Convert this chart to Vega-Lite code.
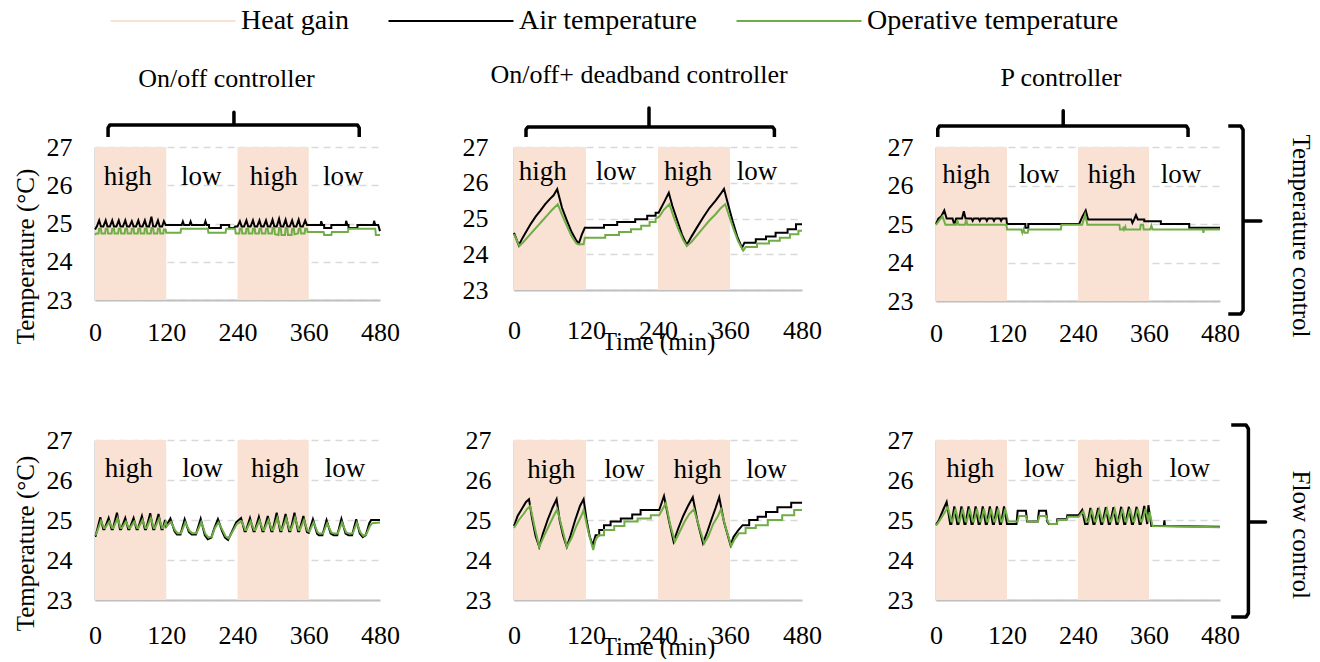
{
"$schema":"https://vega.github.io/schema/vega-lite/v6.json",
"background":"white",
"padding":{"left":12,"top":7,"right":5,"bottom":0},
"config":{
 "font":"Liberation Serif, Times New Roman, DejaVu Serif, serif",
 "view":{"stroke":null},
 "axis":{"labelFont":"Liberation Serif, Times New Roman, DejaVu Serif, serif","labelFontSize":26,"labelColor":"black","ticks":false,"tickSize":0,"domainColor":"#bfbfbf","domainWidth":2,"labelOverlap":false,"labelFlush":false,"titleFont":"Liberation Serif, Times New Roman, DejaVu Serif, serif","titleFontSize":25,"titleFontWeight":"normal","titleColor":"black"},
 "axisX":{"grid":false},
 "axisY":{"grid":true,"gridColor":"#d9d9d9","gridDash":[7,5],"gridWidth":1.5,"labelPadding":23},
 "title":{"font":"Liberation Serif, Times New Roman, DejaVu Serif, serif","fontSize":26,"fontWeight":"normal","color":"black","frame":"group","offset":18},
 "text":{"font":"Liberation Serif, Times New Roman, DejaVu Serif, serif","fontSize":27,"color":"black"},
 "line":{"strokeWidth":2}
},
"datasets":{
 "bands":[{"t":0,"t2":120,"v":23,"v2":27},{"t":240,"t2":360,"v":23,"v2":27}],
 "labels":[
  {"p":"tl","t":55,"v":26.0,"txt":"high"},{"p":"tl","t":179,"v":26.0,"txt":"low"},{"p":"tl","t":301,"v":26.0,"txt":"high"},{"p":"tl","t":418,"v":26.0,"txt":"low"},
  {"p":"tm","t":48,"v":26.08,"txt":"high"},{"p":"tm","t":170,"v":26.08,"txt":"low"},{"p":"tm","t":290,"v":26.08,"txt":"high"},{"p":"tm","t":405,"v":26.08,"txt":"low"},
  {"p":"tr","t":51,"v":26.06,"txt":"high"},{"p":"tr","t":174,"v":26.06,"txt":"low"},{"p":"tr","t":297,"v":26.06,"txt":"high"},{"p":"tr","t":414,"v":26.06,"txt":"low"},
  {"p":"bl","t":57,"v":26.07,"txt":"high"},{"p":"bl","t":181,"v":26.07,"txt":"low"},{"p":"bl","t":303,"v":26.07,"txt":"high"},{"p":"bl","t":421,"v":26.07,"txt":"low"},
  {"p":"bm","t":62,"v":26.05,"txt":"high"},{"p":"bm","t":184,"v":26.05,"txt":"low"},{"p":"bm","t":306,"v":26.05,"txt":"high"},{"p":"bm","t":421,"v":26.05,"txt":"low"},
  {"p":"br","t":58,"v":26.07,"txt":"high"},{"p":"br","t":183,"v":26.07,"txt":"low"},{"p":"br","t":309,"v":26.07,"txt":"high"},{"p":"br","t":429,"v":26.07,"txt":"low"}
 ],
 "braces":[
  {"p":"tl","t":22,"v":27.26},{"p":"tl","t":22,"v":27.5},{"p":"tl","t":25,"v":27.575},{"p":"tl","t":234,"v":27.575},{"p":"tl","t":234,"v":27.91},{"p":"tl","t":234,"v":27.575},{"p":"tl","t":442,"v":27.575},{"p":"tl","t":445,"v":27.5},{"p":"tl","t":445,"v":27.26},
  {"p":"tm","t":20,"v":27.28},{"p":"tm","t":20,"v":27.49},{"p":"tm","t":23,"v":27.56},{"p":"tm","t":225,"v":27.56},{"p":"tm","t":225,"v":28.09},{"p":"tm","t":225,"v":27.56},{"p":"tm","t":431,"v":27.56},{"p":"tm","t":434,"v":27.49},{"p":"tm","t":434,"v":27.28},
  {"p":"tr","t":3,"v":27.26},{"p":"tr","t":3,"v":27.47},{"p":"tr","t":6,"v":27.545},{"p":"tr","t":215,"v":27.545},{"p":"tr","t":215,"v":27.94},{"p":"tr","t":215,"v":27.545},{"p":"tr","t":423,"v":27.545},{"p":"tr","t":426,"v":27.47},{"p":"tr","t":426,"v":27.26},
  {"p":"trr","t":494,"v":27.545},{"p":"trr","t":515,"v":27.545},{"p":"trr","t":519,"v":27.45},{"p":"trr","t":519,"v":25.08},{"p":"trr","t":549,"v":25.08},{"p":"trr","t":519,"v":25.08},{"p":"trr","t":519,"v":22.75},{"p":"trr","t":515,"v":22.66},{"p":"trr","t":494,"v":22.66},
  {"p":"brr","t":499,"v":27.375},{"p":"brr","t":524,"v":27.375},{"p":"brr","t":528,"v":27.28},{"p":"brr","t":528,"v":24.95},{"p":"brr","t":557,"v":24.95},{"p":"brr","t":528,"v":24.95},{"p":"brr","t":528,"v":22.67},{"p":"brr","t":524,"v":22.575},{"p":"brr","t":499,"v":22.575}
 ],
 "side":[{"p":"tr","t":617,"v":24.69,"txt":"Temperature control"},{"p":"br","t":617,"v":24.63,"txt":"Flow control"}],
 "tlA":[{"t":0,"v":24.84},{"t":3,"v":24.92},{"t":7,"v":25.08},{"t":10,"v":24.92},{"t":14,"v":24.92},{"t":18,"v":25.08},{"t":21,"v":24.92},{"t":25,"v":24.92},{"t":29,"v":25.08},{"t":32,"v":24.92},{"t":36,"v":24.92},{"t":40,"v":25.08},{"t":43,"v":24.92},{"t":47,"v":24.92},{"t":51,"v":25.08},{"t":54,"v":24.92},{"t":58,"v":24.92},{"t":62,"v":25.06},{"t":65,"v":24.92},{"t":69,"v":24.92},{"t":73,"v":25.08},{"t":76,"v":24.92},{"t":80,"v":24.92},{"t":84,"v":25.08},{"t":87,"v":24.92},{"t":91,"v":24.92},{"t":95,"v":25.18},{"t":98,"v":24.92},{"t":102,"v":24.92},{"t":106,"v":25.08},{"t":109,"v":24.92},{"t":113,"v":24.92},{"t":116,"v":25.06},{"t":119,"v":24.96},{"t":146,"v":24.96},{"t":148,"v":25.05},{"t":150,"v":24.96},{"t":159,"v":24.96},{"t":161,"v":25.05},{"t":163,"v":24.96},{"t":184,"v":24.96},{"t":186,"v":25.06},{"t":188,"v":24.96},{"t":192,"v":24.96},{"t":192,"v":24.88},{"t":212,"v":24.88},{"t":212,"v":24.96},{"t":226,"v":24.96},{"t":226,"v":24.88},{"t":234,"v":24.88},{"t":236,"v":24.92},{"t":240,"v":24.92},{"t":244,"v":25.06},{"t":247,"v":24.92},{"t":251,"v":24.92},{"t":255,"v":25.08},{"t":258,"v":24.92},{"t":262,"v":24.92},{"t":266,"v":25.08},{"t":269,"v":24.92},{"t":273,"v":24.92},{"t":277,"v":25.08},{"t":280,"v":24.92},{"t":284,"v":24.92},{"t":288,"v":25.08},{"t":291,"v":24.92},{"t":295,"v":24.92},{"t":299,"v":25.1},{"t":302,"v":24.92},{"t":306,"v":24.92},{"t":310,"v":25.12},{"t":313,"v":24.92},{"t":317,"v":24.92},{"t":321,"v":25.1},{"t":324,"v":24.92},{"t":328,"v":24.92},{"t":332,"v":25.08},{"t":335,"v":24.92},{"t":339,"v":24.92},{"t":343,"v":25.1},{"t":346,"v":24.92},{"t":350,"v":24.92},{"t":354,"v":25.08},{"t":357,"v":24.96},{"t":380,"v":24.96},{"t":381,"v":25.06},{"t":383,"v":24.96},{"t":386,"v":24.96},{"t":386,"v":24.88},{"t":398,"v":24.88},{"t":398,"v":24.96},{"t":422,"v":24.96},{"t":423,"v":25.07},{"t":425,"v":24.96},{"t":427,"v":24.96},{"t":427,"v":24.88},{"t":442,"v":24.88},{"t":442,"v":24.96},{"t":469,"v":24.96},{"t":470,"v":25.07},{"t":472,"v":24.96},{"t":477,"v":24.96},{"t":480,"v":24.8}],
 "tlO":[{"t":0,"v":24.7},{"t":2,"v":24.74},{"t":6,"v":24.74},{"t":7,"v":24.86},{"t":10,"v":24.86},{"t":11,"v":24.74},{"t":17,"v":24.74},{"t":18,"v":24.86},{"t":21,"v":24.86},{"t":22,"v":24.74},{"t":28,"v":24.74},{"t":29,"v":24.86},{"t":32,"v":24.86},{"t":33,"v":24.74},{"t":39,"v":24.74},{"t":40,"v":24.86},{"t":43,"v":24.86},{"t":44,"v":24.74},{"t":50,"v":24.74},{"t":51,"v":24.86},{"t":54,"v":24.86},{"t":55,"v":24.74},{"t":61,"v":24.74},{"t":62,"v":24.86},{"t":65,"v":24.86},{"t":66,"v":24.74},{"t":72,"v":24.74},{"t":73,"v":24.86},{"t":76,"v":24.86},{"t":77,"v":24.74},{"t":83,"v":24.74},{"t":84,"v":24.86},{"t":87,"v":24.86},{"t":88,"v":24.74},{"t":94,"v":24.74},{"t":95,"v":24.88},{"t":98,"v":24.88},{"t":99,"v":24.74},{"t":105,"v":24.74},{"t":106,"v":24.86},{"t":109,"v":24.86},{"t":110,"v":24.74},{"t":115,"v":24.74},{"t":116,"v":24.84},{"t":119,"v":24.84},{"t":120,"v":24.76},{"t":144,"v":24.76},{"t":145,"v":24.86},{"t":190,"v":24.86},{"t":191,"v":24.76},{"t":220,"v":24.76},{"t":221,"v":24.86},{"t":236,"v":24.86},{"t":237,"v":24.74},{"t":243,"v":24.74},{"t":244,"v":24.86},{"t":247,"v":24.86},{"t":248,"v":24.74},{"t":254,"v":24.74},{"t":255,"v":24.86},{"t":258,"v":24.86},{"t":259,"v":24.74},{"t":265,"v":24.74},{"t":266,"v":24.86},{"t":269,"v":24.86},{"t":270,"v":24.74},{"t":276,"v":24.74},{"t":277,"v":24.86},{"t":280,"v":24.86},{"t":281,"v":24.74},{"t":287,"v":24.74},{"t":288,"v":24.86},{"t":291,"v":24.86},{"t":292,"v":24.74},{"t":298,"v":24.74},{"t":299,"v":24.88},{"t":302,"v":24.88},{"t":303,"v":24.72},{"t":309,"v":24.7},{"t":310,"v":24.88},{"t":313,"v":24.88},{"t":314,"v":24.7},{"t":320,"v":24.7},{"t":321,"v":24.88},{"t":324,"v":24.88},{"t":325,"v":24.7},{"t":331,"v":24.7},{"t":332,"v":24.86},{"t":335,"v":24.86},{"t":336,"v":24.72},{"t":342,"v":24.74},{"t":343,"v":24.86},{"t":346,"v":24.86},{"t":347,"v":24.74},{"t":353,"v":24.74},{"t":354,"v":24.86},{"t":357,"v":24.86},{"t":358,"v":24.78},{"t":385,"v":24.78},{"t":386,"v":24.7},{"t":398,"v":24.7},{"t":399,"v":24.78},{"t":426,"v":24.78},{"t":427,"v":24.86},{"t":472,"v":24.86},{"t":473,"v":24.7},{"t":480,"v":24.7}],
 "tmA":[{"t":0,"v":24.6},{"t":8,"v":24.25},{"t":14,"v":24.45},{"t":20,"v":24.62},{"t":28,"v":24.85},{"t":36,"v":25.05},{"t":44,"v":25.22},{"t":52,"v":25.4},{"t":60,"v":25.55},{"t":66,"v":25.65},{"t":72,"v":25.82},{"t":80,"v":25.3},{"t":88,"v":24.95},{"t":96,"v":24.62},{"t":104,"v":24.38},{"t":108,"v":24.3},{"t":113,"v":24.55},{"t":118,"v":24.74},{"t":150,"v":24.74},{"t":150,"v":24.82},{"t":172,"v":24.82},{"t":172,"v":24.9},{"t":202,"v":24.9},{"t":202,"v":24.98},{"t":222,"v":24.98},{"t":222,"v":25.08},{"t":236,"v":25.08},{"t":236,"v":25.16},{"t":241,"v":25.16},{"t":250,"v":25.45},{"t":258,"v":25.72},{"t":264,"v":25.35},{"t":272,"v":24.95},{"t":280,"v":24.55},{"t":288,"v":24.26},{"t":296,"v":24.5},{"t":306,"v":24.78},{"t":316,"v":25.05},{"t":326,"v":25.3},{"t":336,"v":25.5},{"t":344,"v":25.68},{"t":350,"v":25.83},{"t":356,"v":25.45},{"t":364,"v":24.95},{"t":372,"v":24.5},{"t":380,"v":24.18},{"t":384,"v":24.32},{"t":403,"v":24.32},{"t":403,"v":24.42},{"t":420,"v":24.42},{"t":420,"v":24.5},{"t":436,"v":24.5},{"t":436,"v":24.6},{"t":456,"v":24.6},{"t":456,"v":24.7},{"t":470,"v":24.7},{"t":470,"v":24.84},{"t":480,"v":24.84}],
 "tmO":[{"t":0,"v":24.56},{"t":9,"v":24.23},{"t":16,"v":24.35},{"t":24,"v":24.5},{"t":32,"v":24.65},{"t":40,"v":24.8},{"t":48,"v":24.95},{"t":56,"v":25.1},{"t":64,"v":25.25},{"t":73,"v":25.4},{"t":80,"v":25.1},{"t":88,"v":24.8},{"t":96,"v":24.5},{"t":104,"v":24.3},{"t":107,"v":24.28},{"t":116,"v":24.28},{"t":118,"v":24.46},{"t":152,"v":24.46},{"t":152,"v":24.54},{"t":175,"v":24.54},{"t":175,"v":24.62},{"t":195,"v":24.62},{"t":195,"v":24.7},{"t":212,"v":24.7},{"t":212,"v":24.8},{"t":226,"v":24.8},{"t":226,"v":24.9},{"t":236,"v":24.9},{"t":236,"v":25.0},{"t":242,"v":25.05},{"t":250,"v":25.25},{"t":259,"v":25.4},{"t":266,"v":25.05},{"t":274,"v":24.7},{"t":282,"v":24.4},{"t":288,"v":24.23},{"t":296,"v":24.35},{"t":306,"v":24.55},{"t":316,"v":24.75},{"t":326,"v":24.95},{"t":336,"v":25.12},{"t":344,"v":25.28},{"t":352,"v":25.4},{"t":358,"v":25.1},{"t":366,"v":24.7},{"t":374,"v":24.35},{"t":382,"v":24.1},{"t":386,"v":24.2},{"t":405,"v":24.2},{"t":405,"v":24.3},{"t":425,"v":24.3},{"t":425,"v":24.38},{"t":443,"v":24.38},{"t":443,"v":24.46},{"t":460,"v":24.46},{"t":460,"v":24.56},{"t":474,"v":24.56},{"t":474,"v":24.66},{"t":480,"v":24.66}],
 "trA":[{"t":0,"v":25.0},{"t":4,"v":25.14},{"t":9,"v":25.2},{"t":14,"v":25.35},{"t":18,"v":25.14},{"t":28,"v":25.14},{"t":30,"v":25.03},{"t":32,"v":25.03},{"t":34,"v":25.14},{"t":44,"v":25.14},{"t":47,"v":25.33},{"t":50,"v":25.14},{"t":60,"v":25.14},{"t":62,"v":25.08},{"t":64,"v":25.14},{"t":72,"v":25.14},{"t":74,"v":25.08},{"t":76,"v":25.14},{"t":84,"v":25.14},{"t":86,"v":25.08},{"t":88,"v":25.14},{"t":96,"v":25.14},{"t":98,"v":25.08},{"t":100,"v":25.14},{"t":108,"v":25.14},{"t":110,"v":25.08},{"t":112,"v":25.14},{"t":119,"v":25.14},{"t":120,"v":25.0},{"t":151,"v":25.0},{"t":151,"v":24.9},{"t":156,"v":24.9},{"t":156,"v":25.0},{"t":242,"v":25.0},{"t":247,"v":25.18},{"t":253,"v":25.35},{"t":257,"v":25.12},{"t":330,"v":25.12},{"t":332,"v":25.03},{"t":335,"v":25.12},{"t":338,"v":25.23},{"t":341,"v":25.12},{"t":352,"v":25.12},{"t":352,"v":25.07},{"t":380,"v":25.07},{"t":380,"v":25.0},{"t":428,"v":25.0},{"t":428,"v":24.9},{"t":480,"v":24.9}],
 "trO":[{"t":0,"v":24.98},{"t":6,"v":25.1},{"t":11,"v":25.2},{"t":16,"v":24.98},{"t":34,"v":24.98},{"t":36,"v":25.1},{"t":38,"v":24.98},{"t":49,"v":24.98},{"t":51,"v":25.12},{"t":53,"v":24.98},{"t":119,"v":24.98},{"t":120,"v":24.86},{"t":144,"v":24.86},{"t":146,"v":24.77},{"t":148,"v":24.86},{"t":150,"v":24.77},{"t":155,"v":24.77},{"t":156,"v":24.86},{"t":211,"v":24.86},{"t":212,"v":24.98},{"t":247,"v":24.98},{"t":252,"v":25.24},{"t":256,"v":24.98},{"t":310,"v":24.98},{"t":311,"v":24.86},{"t":316,"v":24.86},{"t":317,"v":24.93},{"t":318,"v":24.86},{"t":320,"v":24.93},{"t":321,"v":24.86},{"t":345,"v":24.86},{"t":346,"v":24.98},{"t":350,"v":24.98},{"t":351,"v":24.86},{"t":362,"v":24.86},{"t":364,"v":24.96},{"t":366,"v":24.86},{"t":451,"v":24.86},{"t":452,"v":24.77},{"t":453,"v":24.86},{"t":480,"v":24.86}],
 "blA":[{"t":0,"v":24.6},{"t":1,"v":24.6},{"t":9,"v":25.07},{"t":14,"v":24.77},{"t":16,"v":24.77},{"t":23,"v":25.05},{"t":28,"v":24.77},{"t":30,"v":24.77},{"t":37,"v":25.18},{"t":42,"v":24.77},{"t":44,"v":24.77},{"t":51,"v":25.05},{"t":56,"v":24.77},{"t":58,"v":24.77},{"t":65,"v":25.05},{"t":70,"v":24.77},{"t":72,"v":24.77},{"t":79,"v":25.1},{"t":84,"v":24.77},{"t":86,"v":24.77},{"t":93,"v":25.17},{"t":98,"v":24.77},{"t":100,"v":24.77},{"t":107,"v":25.15},{"t":112,"v":24.77},{"t":114,"v":24.77},{"t":118,"v":25.0},{"t":120,"v":24.85},{"t":127,"v":25.04},{"t":134,"v":24.72},{"t":138,"v":24.64},{"t":144,"v":24.64},{"t":151,"v":25.02},{"t":158,"v":24.7},{"t":163,"v":24.64},{"t":170,"v":24.64},{"t":178,"v":25.03},{"t":185,"v":24.62},{"t":190,"v":24.52},{"t":196,"v":24.56},{"t":201,"v":24.8},{"t":207,"v":25.02},{"t":214,"v":24.72},{"t":219,"v":24.56},{"t":224,"v":24.5},{"t":231,"v":24.72},{"t":238,"v":24.95},{"t":246,"v":25.05},{"t":252,"v":24.72},{"t":254,"v":24.72},{"t":261,"v":25.05},{"t":267,"v":24.72},{"t":269,"v":24.72},{"t":276,"v":25.08},{"t":282,"v":24.72},{"t":284,"v":24.72},{"t":291,"v":25.1},{"t":297,"v":24.72},{"t":299,"v":24.72},{"t":306,"v":25.18},{"t":312,"v":24.72},{"t":314,"v":24.72},{"t":321,"v":25.15},{"t":327,"v":24.72},{"t":329,"v":24.72},{"t":336,"v":25.18},{"t":342,"v":24.72},{"t":344,"v":24.72},{"t":351,"v":25.1},{"t":357,"v":24.7},{"t":360,"v":24.68},{"t":367,"v":25.02},{"t":374,"v":24.66},{"t":377,"v":24.62},{"t":383,"v":24.62},{"t":390,"v":25.0},{"t":397,"v":24.66},{"t":402,"v":24.62},{"t":408,"v":24.62},{"t":415,"v":25.03},{"t":422,"v":24.66},{"t":427,"v":24.62},{"t":433,"v":24.62},{"t":440,"v":25.02},{"t":446,"v":24.66},{"t":451,"v":24.57},{"t":456,"v":24.62},{"t":462,"v":24.92},{"t":465,"v":25.0},{"t":480,"v":25.0}],
 "blO":[{"t":0,"v":24.62},{"t":2,"v":24.65},{"t":10,"v":24.98},{"t":15,"v":24.8},{"t":17,"v":24.8},{"t":24,"v":24.96},{"t":29,"v":24.8},{"t":31,"v":24.8},{"t":38,"v":25.05},{"t":43,"v":24.8},{"t":45,"v":24.8},{"t":52,"v":24.96},{"t":57,"v":24.8},{"t":59,"v":24.8},{"t":66,"v":24.96},{"t":71,"v":24.8},{"t":73,"v":24.8},{"t":80,"v":25.0},{"t":85,"v":24.8},{"t":87,"v":24.8},{"t":94,"v":25.05},{"t":99,"v":24.8},{"t":101,"v":24.8},{"t":108,"v":25.04},{"t":113,"v":24.8},{"t":115,"v":24.8},{"t":119,"v":24.95},{"t":121,"v":24.85},{"t":128,"v":24.95},{"t":135,"v":24.74},{"t":139,"v":24.67},{"t":145,"v":24.67},{"t":152,"v":24.94},{"t":159,"v":24.73},{"t":164,"v":24.67},{"t":171,"v":24.67},{"t":179,"v":24.95},{"t":186,"v":24.65},{"t":191,"v":24.56},{"t":197,"v":24.59},{"t":202,"v":24.8},{"t":208,"v":24.94},{"t":215,"v":24.74},{"t":220,"v":24.59},{"t":225,"v":24.54},{"t":232,"v":24.72},{"t":239,"v":24.9},{"t":247,"v":24.97},{"t":253,"v":24.75},{"t":255,"v":24.75},{"t":262,"v":24.97},{"t":268,"v":24.75},{"t":270,"v":24.75},{"t":277,"v":24.99},{"t":283,"v":24.75},{"t":285,"v":24.75},{"t":292,"v":25.0},{"t":298,"v":24.75},{"t":300,"v":24.75},{"t":307,"v":25.06},{"t":313,"v":24.75},{"t":315,"v":24.75},{"t":322,"v":25.04},{"t":328,"v":24.75},{"t":330,"v":24.75},{"t":337,"v":25.06},{"t":343,"v":24.75},{"t":345,"v":24.75},{"t":352,"v":25.0},{"t":358,"v":24.73},{"t":361,"v":24.71},{"t":368,"v":24.94},{"t":375,"v":24.69},{"t":378,"v":24.66},{"t":384,"v":24.66},{"t":391,"v":24.92},{"t":398,"v":24.69},{"t":403,"v":24.66},{"t":409,"v":24.66},{"t":416,"v":24.94},{"t":423,"v":24.69},{"t":428,"v":24.66},{"t":434,"v":24.66},{"t":441,"v":24.93},{"t":447,"v":24.69},{"t":452,"v":24.6},{"t":457,"v":24.64},{"t":463,"v":24.85},{"t":467,"v":24.92},{"t":480,"v":24.94}],
 "bmA":[{"t":0,"v":24.85},{"t":6,"v":25.1},{"t":14,"v":25.3},{"t":20,"v":25.45},{"t":25,"v":25.52},{"t":30,"v":25.05},{"t":36,"v":24.6},{"t":42,"v":24.33},{"t":48,"v":24.65},{"t":56,"v":25.0},{"t":64,"v":25.3},{"t":71,"v":25.52},{"t":76,"v":25.0},{"t":82,"v":24.6},{"t":88,"v":24.33},{"t":94,"v":24.6},{"t":102,"v":25.0},{"t":110,"v":25.35},{"t":116,"v":25.52},{"t":121,"v":25.0},{"t":126,"v":24.6},{"t":131,"v":24.37},{"t":136,"v":24.62},{"t":142,"v":24.62},{"t":142,"v":24.75},{"t":150,"v":24.75},{"t":150,"v":24.87},{"t":161,"v":24.87},{"t":161,"v":24.96},{"t":178,"v":24.96},{"t":178,"v":25.04},{"t":197,"v":25.04},{"t":197,"v":25.14},{"t":211,"v":25.14},{"t":211,"v":25.25},{"t":242,"v":25.25},{"t":250,"v":25.6},{"t":258,"v":25.0},{"t":266,"v":24.46},{"t":274,"v":24.8},{"t":282,"v":25.1},{"t":290,"v":25.35},{"t":298,"v":25.57},{"t":306,"v":24.95},{"t":315,"v":24.42},{"t":322,"v":24.7},{"t":330,"v":25.05},{"t":336,"v":25.3},{"t":342,"v":25.57},{"t":350,"v":24.95},{"t":361,"v":24.37},{"t":366,"v":24.58},{"t":374,"v":24.75},{"t":381,"v":24.87},{"t":392,"v":24.87},{"t":392,"v":25.0},{"t":406,"v":25.0},{"t":406,"v":25.08},{"t":420,"v":25.08},{"t":420,"v":25.2},{"t":439,"v":25.2},{"t":439,"v":25.32},{"t":462,"v":25.32},{"t":462,"v":25.43},{"t":480,"v":25.43}],
 "bmO":[{"t":0,"v":24.8},{"t":8,"v":25.0},{"t":16,"v":25.15},{"t":22,"v":25.28},{"t":27,"v":25.35},{"t":34,"v":24.85},{"t":42,"v":24.33},{"t":50,"v":24.6},{"t":58,"v":24.85},{"t":66,"v":25.1},{"t":72,"v":25.27},{"t":80,"v":24.8},{"t":88,"v":24.33},{"t":96,"v":24.55},{"t":104,"v":24.85},{"t":112,"v":25.1},{"t":116,"v":25.25},{"t":124,"v":24.7},{"t":132,"v":24.25},{"t":136,"v":24.5},{"t":141,"v":24.62},{"t":150,"v":24.62},{"t":150,"v":24.75},{"t":167,"v":24.75},{"t":167,"v":24.85},{"t":184,"v":24.85},{"t":184,"v":24.96},{"t":206,"v":24.96},{"t":206,"v":25.04},{"t":228,"v":25.04},{"t":228,"v":25.12},{"t":242,"v":25.12},{"t":253,"v":25.42},{"t":260,"v":24.9},{"t":268,"v":24.46},{"t":276,"v":24.7},{"t":284,"v":24.95},{"t":292,"v":25.15},{"t":300,"v":25.27},{"t":308,"v":24.85},{"t":317,"v":24.42},{"t":324,"v":24.6},{"t":332,"v":24.9},{"t":340,"v":25.1},{"t":345,"v":25.27},{"t":352,"v":24.85},{"t":362,"v":24.35},{"t":367,"v":24.5},{"t":375,"v":24.67},{"t":386,"v":24.67},{"t":386,"v":24.8},{"t":403,"v":24.8},{"t":403,"v":24.87},{"t":423,"v":24.87},{"t":423,"v":25.0},{"t":447,"v":25.0},{"t":447,"v":25.12},{"t":467,"v":25.12},{"t":467,"v":25.25},{"t":480,"v":25.25}],
 "brA":[{"t":0,"v":24.88},{"t":5,"v":25.0},{"t":12,"v":25.25},{"t":18,"v":25.45},{"t":24,"v":24.9},{"t":26,"v":24.9},{"t":31,"v":25.34},{"t":36,"v":24.9},{"t":38,"v":24.9},{"t":43,"v":25.34},{"t":48,"v":24.9},{"t":50,"v":24.9},{"t":55,"v":25.34},{"t":60,"v":24.9},{"t":62,"v":24.9},{"t":67,"v":25.34},{"t":72,"v":24.9},{"t":74,"v":24.9},{"t":79,"v":25.34},{"t":84,"v":24.9},{"t":86,"v":24.9},{"t":91,"v":25.34},{"t":96,"v":24.9},{"t":98,"v":24.9},{"t":103,"v":25.34},{"t":108,"v":24.9},{"t":110,"v":24.9},{"t":115,"v":25.34},{"t":120,"v":24.9},{"t":136,"v":24.9},{"t":138,"v":25.23},{"t":152,"v":25.23},{"t":154,"v":24.96},{"t":172,"v":24.96},{"t":174,"v":25.23},{"t":186,"v":25.23},{"t":188,"v":24.96},{"t":191,"v":24.9},{"t":204,"v":24.9},{"t":205,"v":25.02},{"t":221,"v":25.02},{"t":222,"v":25.12},{"t":241,"v":25.12},{"t":247,"v":25.25},{"t":252,"v":24.9},{"t":256,"v":24.9},{"t":261,"v":25.3},{"t":266,"v":24.9},{"t":268,"v":24.9},{"t":274,"v":25.3},{"t":279,"v":24.9},{"t":281,"v":24.9},{"t":287,"v":25.32},{"t":292,"v":24.9},{"t":294,"v":24.9},{"t":300,"v":25.32},{"t":305,"v":24.9},{"t":307,"v":24.9},{"t":313,"v":25.33},{"t":318,"v":24.9},{"t":320,"v":24.9},{"t":326,"v":25.33},{"t":331,"v":24.9},{"t":333,"v":24.9},{"t":339,"v":25.33},{"t":344,"v":24.9},{"t":346,"v":24.9},{"t":352,"v":25.35},{"t":357,"v":24.9},{"t":359,"v":25.37},{"t":364,"v":24.85},{"t":385,"v":24.85},{"t":386,"v":24.99},{"t":387,"v":24.85},{"t":480,"v":24.83}],
 "brO":[{"t":0,"v":24.86},{"t":6,"v":24.98},{"t":13,"v":25.15},{"t":20,"v":25.32},{"t":26,"v":24.96},{"t":28,"v":24.96},{"t":33,"v":25.28},{"t":38,"v":24.96},{"t":40,"v":24.96},{"t":45,"v":25.28},{"t":50,"v":24.96},{"t":52,"v":24.96},{"t":57,"v":25.28},{"t":62,"v":24.96},{"t":64,"v":24.96},{"t":69,"v":25.28},{"t":74,"v":24.96},{"t":76,"v":24.96},{"t":81,"v":25.28},{"t":86,"v":24.96},{"t":88,"v":24.96},{"t":93,"v":25.28},{"t":98,"v":24.96},{"t":100,"v":24.96},{"t":105,"v":25.28},{"t":110,"v":24.96},{"t":112,"v":24.96},{"t":117,"v":25.28},{"t":122,"v":24.96},{"t":138,"v":24.96},{"t":140,"v":25.1},{"t":152,"v":25.1},{"t":155,"v":24.96},{"t":172,"v":24.96},{"t":175,"v":25.1},{"t":186,"v":25.1},{"t":189,"v":24.96},{"t":192,"v":24.9},{"t":204,"v":24.9},{"t":206,"v":25.0},{"t":221,"v":25.0},{"t":223,"v":25.08},{"t":241,"v":25.08},{"t":249,"v":25.22},{"t":254,"v":24.96},{"t":258,"v":24.96},{"t":263,"v":25.26},{"t":268,"v":24.96},{"t":270,"v":24.96},{"t":276,"v":25.26},{"t":281,"v":24.96},{"t":283,"v":24.96},{"t":289,"v":25.27},{"t":294,"v":24.96},{"t":296,"v":24.96},{"t":302,"v":25.27},{"t":307,"v":24.96},{"t":309,"v":24.96},{"t":315,"v":25.28},{"t":320,"v":24.96},{"t":322,"v":24.96},{"t":328,"v":25.28},{"t":333,"v":24.96},{"t":335,"v":24.96},{"t":341,"v":25.28},{"t":346,"v":24.96},{"t":348,"v":24.96},{"t":354,"v":25.28},{"t":359,"v":24.96},{"t":361,"v":25.2},{"t":366,"v":24.85},{"t":480,"v":24.82}]
},
"columns":3,
"bounds":"flush",
"spacing":{"row":139,"column":134},
"concat":[
 {"width":285,"height":153,"title":{"text":"On/off controller","dx":-11},
  "encoding":{"x":{"field":"t","type":"quantitative","scale":{"domain":[0,480],"nice":false,"zero":false},"axis":{"values":[0,120,240,360,480],"labelPadding":19,"title":null}},
   "y":{"field":"v","type":"quantitative","scale":{"domain":[23,27],"nice":false,"zero":false},"axis":{"values":[23,24,25,26,27],"title":"Temperature (°C)","titleX":-62,"titleY":109,"titleBaseline":"alphabetic","titleAlign":"center","titleAngle":-90}}},
  "layer":[
   {"data":{"name":"bands"},"mark":{"type":"rect","color":"#f9e2d4"},"encoding":{"x2":{"field":"t2"},"y2":{"field":"v2"}}},
   {"data":{"name":"tlA"},"mark":"line","encoding":{"color":{"datum":"Air temperature","type":"nominal","scale":{"domain":["Heat gain","Air temperature","Operative temperature"],"range":["#f9e2d4","#000000","#70ad47"]},"legend":{"orient":"none","legendX":64,"legendY":-140,"direction":"horizontal","title":null,"symbolType":"M-5,0H5","symbolSize":625,"symbolStrokeWidth":3,"symbolOffset":0,"labelOffset":54,"columnPadding":34,"labelFontSize":28,"labelFont":"Liberation Serif, Times New Roman, DejaVu Serif, serif","labelColor":"black","labelLimit":400,"padding":0,"encode":{"symbols":{"update":{"strokeWidth":{"signal":"datum.value === 'Heat gain' ? 9 : 3"},"fillOpacity":{"value":0}}}}}},"order":{"value":null}}},
   {"data":{"name":"tlO"},"mark":"line","encoding":{"color":{"datum":"Operative temperature","type":"nominal"},"order":{"value":null}}},
   {"data":{"name":"labels"},"transform":[{"filter":"datum.p=='tl'"}],"mark":{"type":"text","baseline":"alphabetic"},"encoding":{"text":{"field":"txt"}}},
   {"data":{"name":"braces"},"transform":[{"filter":"datum.p=='tl'"}],"mark":{"type":"line","color":"black","strokeWidth":3.5,"strokeJoin":"round","clip":false},"encoding":{"order":{"value":null}}}
  ]},
 {"width":288,"height":143,"title":{"text":"On/off+ deadband controller","dx":-19},
  "encoding":{"x":{"field":"t","type":"quantitative","scale":{"domain":[0,480],"nice":false,"zero":false},"axis":{"values":[0,120,240,360,480],"labelPadding":27,"title":"Time (min)","titleY":39,"titleBaseline":"top"}},
   "y":{"field":"v","type":"quantitative","scale":{"domain":[23,27],"nice":false,"zero":false},"axis":{"values":[23,24,25,26,27],"title":null,"labelPadding":26}}},
  "layer":[
   {"data":{"name":"bands"},"mark":{"type":"rect","color":"#f9e2d4"},"encoding":{"x2":{"field":"t2"},"y2":{"field":"v2"}}},
   {"data":{"name":"tmA"},"mark":"line","encoding":{"color":{"datum":"Air temperature","type":"nominal"},"order":{"value":null}}},
   {"data":{"name":"tmO"},"mark":"line","encoding":{"color":{"datum":"Operative temperature","type":"nominal"},"order":{"value":null}}},
   {"data":{"name":"labels"},"transform":[{"filter":"datum.p=='tm'"}],"mark":{"type":"text","baseline":"alphabetic"},"encoding":{"text":{"field":"txt"}}},
   {"data":{"name":"braces"},"transform":[{"filter":"datum.p=='tm'"}],"mark":{"type":"line","color":"black","strokeWidth":3.5,"strokeJoin":"round","clip":false},"encoding":{"order":{"value":null}}}
  ]},
 {"width":284,"height":154,"title":{"text":"P controller","dx":-17},
  "encoding":{"x":{"field":"t","type":"quantitative","scale":{"domain":[0,480],"nice":false,"zero":false},"axis":{"values":[0,120,240,360,480],"labelPadding":19,"title":null}},
   "y":{"field":"v","type":"quantitative","scale":{"domain":[23,27],"nice":false,"zero":false},"axis":{"values":[23,24,25,26,27],"title":null}}},
  "layer":[
   {"data":{"name":"bands"},"mark":{"type":"rect","color":"#f9e2d4"},"encoding":{"x2":{"field":"t2"},"y2":{"field":"v2"}}},
   {"data":{"name":"trA"},"mark":"line","encoding":{"color":{"datum":"Air temperature","type":"nominal"},"order":{"value":null}}},
   {"data":{"name":"trO"},"mark":"line","encoding":{"color":{"datum":"Operative temperature","type":"nominal"},"order":{"value":null}}},
   {"data":{"name":"labels"},"transform":[{"filter":"datum.p=='tr'"}],"mark":{"type":"text","baseline":"alphabetic"},"encoding":{"text":{"field":"txt"}}},
   {"data":{"name":"braces"},"transform":[{"filter":"datum.p=='tr' || datum.p=='trr'"}],"mark":{"type":"line","color":"black","strokeWidth":3.5,"strokeJoin":"round","clip":false},"encoding":{"detail":{"field":"p"},"order":{"value":null}}},
   {"data":{"name":"side"},"transform":[{"filter":"datum.p=='tr'"}],"mark":{"type":"text","angle":90,"baseline":"middle","fontSize":25,"clip":false},"encoding":{"text":{"field":"txt"}}}
  ]},
 {"width":285,"height":160,
  "encoding":{"x":{"field":"t","type":"quantitative","scale":{"domain":[0,480],"nice":false,"zero":false},"axis":{"values":[0,120,240,360,480],"labelPadding":22,"title":null}},
   "y":{"field":"v","type":"quantitative","scale":{"domain":[23,27],"nice":false,"zero":false},"axis":{"values":[23,24,25,26,27],"title":"Temperature (°C)","titleX":-62,"titleY":103,"titleBaseline":"alphabetic","titleAlign":"center","titleAngle":-90}}},
  "layer":[
   {"data":{"name":"bands"},"mark":{"type":"rect","color":"#f9e2d4"},"encoding":{"x2":{"field":"t2"},"y2":{"field":"v2"}}},
   {"data":{"name":"blA"},"mark":"line","encoding":{"color":{"datum":"Air temperature","type":"nominal"},"order":{"value":null}}},
   {"data":{"name":"blO"},"mark":"line","encoding":{"color":{"datum":"Operative temperature","type":"nominal"},"order":{"value":null}}},
   {"data":{"name":"labels"},"transform":[{"filter":"datum.p=='bl'"}],"mark":{"type":"text","baseline":"alphabetic"},"encoding":{"text":{"field":"txt"}}}
  ]},
 {"width":288,"height":160,
  "encoding":{"x":{"field":"t","type":"quantitative","scale":{"domain":[0,480],"nice":false,"zero":false},"axis":{"values":[0,120,240,360,480],"labelPadding":22,"title":"Time (min)","titleY":34,"titleBaseline":"top"}},
   "y":{"field":"v","type":"quantitative","scale":{"domain":[23,27],"nice":false,"zero":false},"axis":{"values":[23,24,25,26,27],"title":null}}},
  "layer":[
   {"data":{"name":"bands"},"mark":{"type":"rect","color":"#f9e2d4"},"encoding":{"x2":{"field":"t2"},"y2":{"field":"v2"}}},
   {"data":{"name":"bmA"},"mark":"line","encoding":{"color":{"datum":"Air temperature","type":"nominal"},"order":{"value":null}}},
   {"data":{"name":"bmO"},"mark":"line","encoding":{"color":{"datum":"Operative temperature","type":"nominal"},"order":{"value":null}}},
   {"data":{"name":"labels"},"transform":[{"filter":"datum.p=='bm'"}],"mark":{"type":"text","baseline":"alphabetic"},"encoding":{"text":{"field":"txt"}}}
  ]},
 {"width":284,"height":160,
  "encoding":{"x":{"field":"t","type":"quantitative","scale":{"domain":[0,480],"nice":false,"zero":false},"axis":{"values":[0,120,240,360,480],"labelPadding":22,"title":null}},
   "y":{"field":"v","type":"quantitative","scale":{"domain":[23,27],"nice":false,"zero":false},"axis":{"values":[23,24,25,26,27],"title":null}}},
  "layer":[
   {"data":{"name":"bands"},"mark":{"type":"rect","color":"#f9e2d4"},"encoding":{"x2":{"field":"t2"},"y2":{"field":"v2"}}},
   {"data":{"name":"brA"},"mark":"line","encoding":{"color":{"datum":"Air temperature","type":"nominal"},"order":{"value":null}}},
   {"data":{"name":"brO"},"mark":"line","encoding":{"color":{"datum":"Operative temperature","type":"nominal"},"order":{"value":null}}},
   {"data":{"name":"labels"},"transform":[{"filter":"datum.p=='br'"}],"mark":{"type":"text","baseline":"alphabetic"},"encoding":{"text":{"field":"txt"}}},
   {"data":{"name":"braces"},"transform":[{"filter":"datum.p=='brr'"}],"mark":{"type":"line","color":"black","strokeWidth":3.5,"strokeJoin":"round","clip":false},"encoding":{"order":{"value":null}}},
   {"data":{"name":"side"},"transform":[{"filter":"datum.p=='br'"}],"mark":{"type":"text","angle":90,"baseline":"middle","fontSize":25,"clip":false},"encoding":{"text":{"field":"txt"}}}
  ]}
]
}
